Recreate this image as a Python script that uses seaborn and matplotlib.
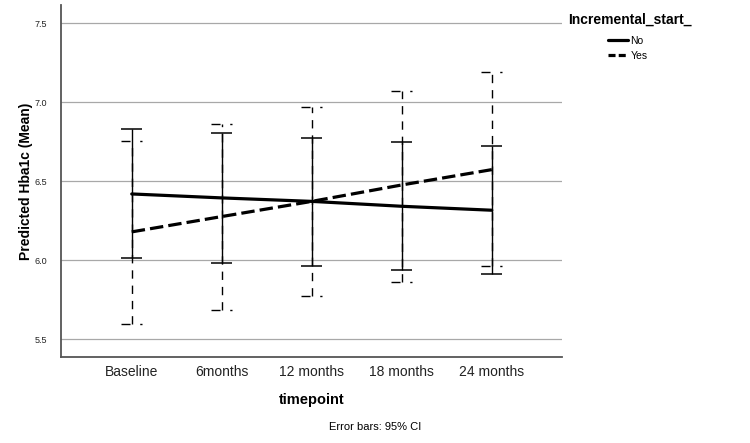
import numpy as np
import pandas as pd
import matplotlib.pyplot as plt
import seaborn as sns
from matplotlib.lines import Line2D

# estimated marginal means of Hba1c with 95% CI
timepoints = ["Baseline", "6months", "12 months", "18 months", "24 months"]
groups = ["No", "Yes"]

mean_no = [6.420, 6.395, 6.373, 6.342, 6.317]
lower_no = [6.015, 5.985, 5.966, 5.939, 5.915]
upper_no = [6.833, 6.804, 6.775, 6.747, 6.722]

mean_yes = [6.180, 6.277, 6.373, 6.477, 6.574]
lower_yes = [5.595, 5.684, 5.774, 5.865, 5.964]
upper_yes = [6.758, 6.863, 6.969, 7.074, 7.190]

sns.set_style("white")
plt.rcParams['font.family'] = ['Liberation Sans', 'DejaVu Sans']
plt.rcParams.update({"text.color": "black", "axes.labelcolor": "black",
                     "xtick.color": "black", "ytick.color": "black"})

pos = np.arange(len(timepoints))
df = pd.DataFrame({
    "pos": np.tile(pos, 2),
    "group": np.repeat(groups, len(timepoints)),
    "mean": mean_no + mean_yes,
})

fig = plt.figure(figsize=(7.5, 4.43), dpi=100)
ax = fig.add_axes([61 / 750, 1 - 357 / 443, 501 / 750, 352 / 443])

yes_dash = (0, (6, 5))
cap_dash = (0, (6.5, 7))
cw = 0.117

# error bars (Yes first so the solid No bars sit on top)
ax.vlines(pos, lower_yes, upper_yes, colors="black", lw=1.0, linestyles=[yes_dash])
ax.hlines(lower_yes, pos - cw, pos + cw, colors="black", lw=1.0, linestyles=[cap_dash])
ax.hlines(upper_yes, pos - cw, pos + cw, colors="black", lw=1.0, linestyles=[cap_dash])

ax.vlines(pos, lower_no, upper_no, colors="black", lw=1.0)
ax.hlines(lower_no, pos - cw, pos + cw, colors="black", lw=1.1)
ax.hlines(upper_no, pos - cw, pos + cw, colors="black", lw=1.1)

sns.lineplot(data=df, x="pos", y="mean", style="group", color="black",
             dashes={"No": "", "Yes": (4.2, 1.6)}, lw=2.3, legend=False,
             ax=ax, zorder=5)

ax.set_xlim(-0.786, 4.78)
ax.set_ylim(5.388, 7.616)
ax.set_xticks(pos)
ax.set_xticklabels(timepoints, fontsize=10)
ax.set_yticks([5.5, 6.0, 6.5, 7.0, 7.5])
ax.set_yticklabels(["5.5", "6.0", "6.5", "7.0", "7.5"], fontsize=6.5)
ax.tick_params(axis="x", length=0, pad=6, colors="#222222")
ax.tick_params(axis="y", length=0, pad=10, colors="#222222")

ax.yaxis.grid(True, color="#a8a8a8", lw=0.9)
ax.set_axisbelow(True)
for s in ["top", "right"]:
    ax.spines[s].set_visible(False)
for s in ["left", "bottom"]:
    ax.spines[s].set_color("#555555")
    ax.spines[s].set_linewidth(1.3)

ax.set_xlabel("timepoint", fontsize=10.5, fontweight="bold", labelpad=10)
ax.set_ylabel("Predicted Hba1c (Mean)", fontsize=10, fontweight="bold", labelpad=1)

fig.text(568 / 750, 1 - 20 / 443, "Incremental_start_", fontsize=10,
         fontweight="bold", ha="left", va="center")
handles = [Line2D([], [], color="black", lw=2.3),
           Line2D([], [], color="black", lw=2.3, dashes=(2.2, 1.0))]
fig.legend(handles, groups, loc="upper left", bbox_to_anchor=(608 / 750, 1 - 36 / 443),
           frameon=False, fontsize=7.5, handlelength=1.9, handletextpad=0.25,
           labelspacing=0.45, borderaxespad=0, borderpad=0)

fig.text(0.5, 1 - 427 / 443, "Error bars: 95% CI", fontsize=8, ha="center", va="center")

plt.savefig("out.png", dpi=100, facecolor="white")
